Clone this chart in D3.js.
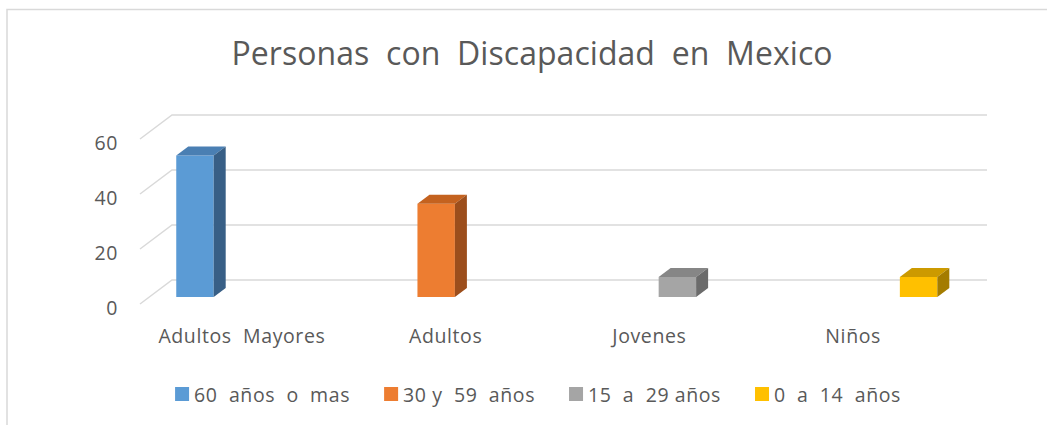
<!DOCTYPE html>
<html lang="es">
<head>
<meta charset="UTF-8">
<title>Personas con Discapacidad en Mexico</title>
<script src="https://d3js.org/d3.v7.min.js"></script>
<style>
    body { margin: 0; background: #fff; }
    svg { display: block; font-family: "Open Sans", Arial, sans-serif; }
    text { white-space: pre; fill: #595959; }
    .lbl { font-size: 19.5px; letter-spacing: 0.6px; }
</style>
</head>
<body>
<div id="chart"></div>
<script>
// data
const title = "Personas  con  Discapacidad  en  Mexico";
const categories = ["Adultos  Mayores", "Adultos", "Jovenes", "Niños"];
const series = ["60  años  o  mas", "30 y  59  años", "15  a  29 años", "0  a  14  años"];
// one value per category, each in its own series
const values = [51.5, 33.9, 7.3, 7.3];
const yTicks = [0, 20, 40, 60];

const colors = {
    front: ["#5b9bd5", "#ed7d31", "#a5a5a5", "#ffc000"],
    top:   ["#4a7fb3", "#c4621f", "#868686", "#cc9a00"],
    side:  ["#385f86", "#9c4e1c", "#6b6b6b", "#a47c00"]
};

const W = 1047, H = 425;
const svg = d3.select("#chart").append("svg").attr("width", W).attr("height", H);

// chart frame
svg.append("rect")
    .attr("x", 7).attr("y", 9.5)
    .attr("width", W + 20).attr("height", H + 20)
    .attr("fill", "none").attr("stroke", "#d9d9d9").attr("stroke-width", 1.5);

// 3d projection: depth z in [0,1]
const DX = 32, DY = -24;
const x0 = d3.scaleBand().domain(categories).range([140, 955]);
const x1 = d3.scaleBand().domain(series).range([0, x0.bandwidth()]).paddingOuter(0.72);
const y = d3.scaleLinear().domain([0, 60]).range([304, 139]);
const px = (x, z) => x + z * DX;
const py = (yy, z) => yy + z * DY;

// gridlines: side wall diagonal + back wall
const grid = svg.append("g").attr("stroke", "#d9d9d9").attr("stroke-width", 1.5).attr("fill", "none");
yTicks.forEach(t => {
    grid.append("path").attr("d", d3.line()([
        [px(140, 0), py(y(t), 0)],
        [px(140, 1), py(y(t), 1)],
        [px(955, 1), py(y(t), 1)]
    ]));
});

// y tick labels
svg.append("g").selectAll("text").data(yTicks).join("text")
    .attr("class", "lbl")
    .attr("x", 118).attr("y", d => y(d) + 3)
    .attr("text-anchor", "end").attr("dominant-baseline", "central")
    .text(d => d);

// bars
const zF = 0.29, zB = 0.665;
const bars = svg.append("g");
values.forEach((v, i) => {
    const xl = x0(categories[i]) + x1(series[i]);
    const xr = xl + x1.bandwidth();
    const yb = y(0), yt = y(v);
    const g = bars.append("g");
    g.append("path").attr("fill", colors.front[i]).attr("d", d3.line()([
        [px(xl, zF), py(yb, zF)], [px(xr, zF), py(yb, zF)],
        [px(xr, zF), py(yt, zF)], [px(xl, zF), py(yt, zF)]
    ]) + "Z");
    g.append("path").attr("fill", colors.top[i]).attr("d", d3.line()([
        [px(xl, zF), py(yt, zF)], [px(xr, zF), py(yt, zF)],
        [px(xr, zB), py(yt, zB)], [px(xl, zB), py(yt, zB)]
    ]) + "Z");
    g.append("path").attr("fill", colors.side[i]).attr("d", d3.line()([
        [px(xr, zF), py(yb, zF)], [px(xr, zB), py(yb, zB)],
        [px(xr, zB), py(yt, zB)], [px(xr, zF), py(yt, zF)]
    ]) + "Z");
});

// category labels
svg.append("g").selectAll("text").data(categories).join("text")
    .attr("class", "lbl")
    .attr("x", d => x0(d) + x0.bandwidth() / 2)
    .attr("y", 335)
    .attr("text-anchor", "middle").attr("dominant-baseline", "central")
    .text(d => d);

// title
svg.append("text")
    .attr("x", 532).attr("y", 65)
    .attr("text-anchor", "middle")
    .attr("textLength", 601).attr("lengthAdjust", "spacing")
    .style("font-size", "32px")
    .text(title);

// legend
const legend = svg.append("g");
const items = series.map((s, i) => {
    const g = legend.append("g");
    g.append("rect").attr("x", 0).attr("y", -7).attr("width", 14).attr("height", 14)
        .attr("fill", colors.front[i]);
    const t = g.append("text").attr("class", "lbl").attr("x", 19).attr("y", 0)
        .attr("dominant-baseline", "central").text(s);
    return { g, w: 19 + t.node().getComputedTextLength() };
});
const gap = 34;
const total = d3.sum(items, d => d.w) + gap * (items.length - 1);
let lx = 538 - total / 2;
items.forEach(d => {
    d.g.attr("transform", `translate(${lx},394)`);
    lx += d.w + gap;
});
</script>
</body>
</html>
